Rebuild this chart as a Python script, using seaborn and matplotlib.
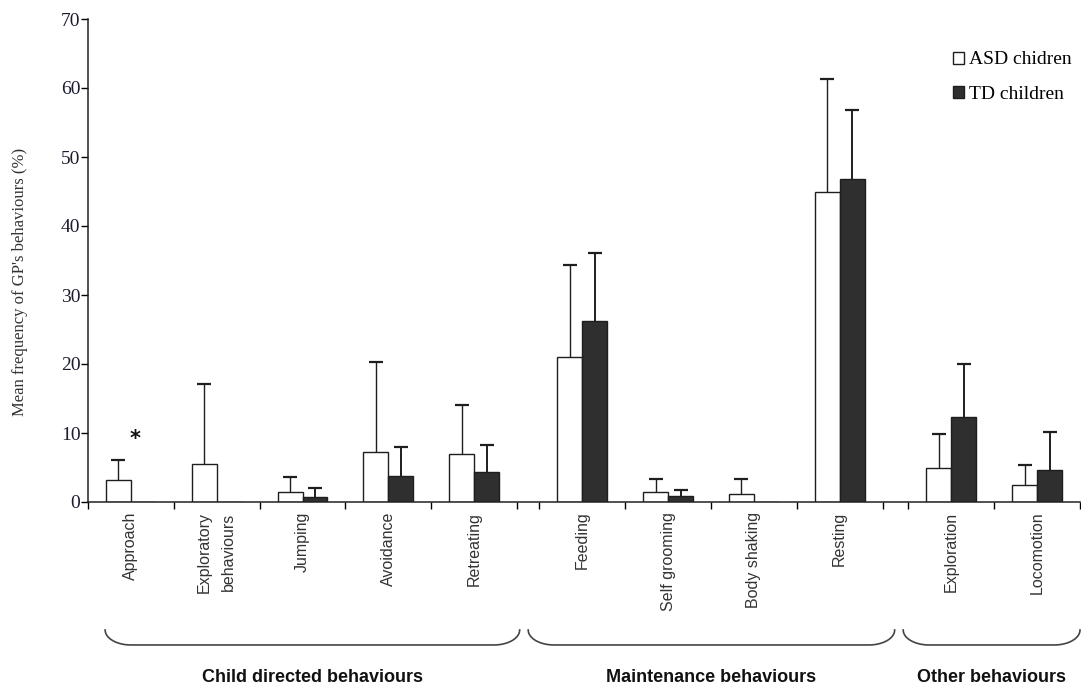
import numpy as np
import pandas as pd
import matplotlib
matplotlib.use("Agg")
import matplotlib.pyplot as plt
import seaborn as sns

# --- data ---
behaviours = ["Approach", "Exploratory\nbehaviours", "Jumping", "Avoidance", "Retreating",
              "Feeding", "Self grooming", "Body shaking", "Resting",
              "Exploration", "Locomotion"]
asd_mean = [3.2, 5.5, 1.5, 7.2, 7.0, 21.0, 1.5, 1.2, 45.0, 5.0, 2.4]
asd_err = [2.9, 11.6, 2.1, 13.1, 7.0, 13.3, 1.8, 2.1, 16.3, 4.9, 2.9]
td_mean = [0.0, 0.0, 0.7, 3.7, 4.4, 26.3, 0.8, 0.0, 46.8, 12.3, 4.6]
td_err = [0.0, 0.0, 1.3, 4.3, 3.8, 9.8, 0.9, 0.0, 10.0, 7.7, 5.5]
groups = ["Child directed behaviours", "Maintenance behaviours", "Other behaviours"]
group_sizes = [5, 4, 2]
series = ["ASD chidren", "TD children"]

# category positions with a small gap between the behaviour groups
gaps = [0.0, 0.26, 0.30]
pos, bounds = [], []
start = 0.0
for g, n in enumerate(group_sizes):
    start += gaps[g]
    bounds.append((start, start + n))
    pos += [start + i + 0.5 for i in range(n)]
    start += n
pos = np.array(pos)

df = pd.DataFrame({
    "pos": np.concatenate([pos, pos]),
    "mean": asd_mean + td_mean,
    "err": asd_err + td_err,
    "group": [series[0]] * len(pos) + [series[1]] * len(pos),
})

serif = "Liberation Serif"
sans = "Liberation Sans"

fig = plt.figure(figsize=(10.81, 6.85), dpi=100)
ax = fig.add_axes([88 / 1081, 1 - 502 / 685, 992 / 1081, 483 / 685])

width = 0.58
sns.barplot(data=df, x="pos", y="mean", hue="group", hue_order=series,
            native_scale=True, width=width, saturation=1, errorbar=None,
            palette={series[0]: "white", series[1]: "#2f2f2f"},
            edgecolor="#1e1e1e", linewidth=1.0, ax=ax)

# one-sided (upper) error bars
for k, (name, lw) in enumerate(zip(series, [1.0, 1.4])):
    sub = df[(df["group"] == name) & (df["err"] > 0)]
    x = sub["pos"] + (k - 0.5) * width / 2
    eb = ax.errorbar(x, sub["mean"], yerr=[np.zeros(len(sub)), sub["err"]], fmt="none",
                     ecolor="#1e1e1e", elinewidth=lw, capsize=5, capthick=1.6, zorder=1)
    eb[1][0].set_visible(False)

# significance star on Approach
ax.text(pos[0] + 0.05, 9.2, "*", ha="center", va="center", fontsize=15,
        fontweight="bold", color="#111111")

total = bounds[-1][1]
ax.set_xlim(0, total)
ax.set_ylim(0, 70)
ax.set_yticks(range(0, 71, 10))
ax.tick_params(axis="y", direction="out", length=5, width=1, pad=0.5, labelsize=14,
               labelcolor="#1c1c30")
for t in ax.get_yticklabels():
    t.set_fontfamily(serif)

edges = sorted(set(sum([[s + i for i in range(int(e - s) + 1)] for s, e in bounds], [])))
ax.set_xticks(edges)
ax.set_xticklabels([])
ax.set_xticks(pos, minor=True)
ax.set_xticklabels(behaviours, minor=True, rotation=90, va="top", ha="center",
                   fontfamily=sans, fontsize=11.5, color="#333333", linespacing=1.75)
ax.tick_params(axis="x", which="major", direction="out", length=5, width=1)
ax.tick_params(axis="x", which="minor", length=0, pad=7)
ax.set_xlabel("")
ax.set_ylabel("Mean frequency of GP's behaviours (%)", fontfamily=serif, fontsize=12,
              color="#333333")
ax.yaxis.set_label_coords(-0.0605, 0.455)

for s in ["top", "right"]:
    ax.spines[s].set_visible(False)
for s in ["left", "bottom"]:
    ax.spines[s].set_color("#222222")
    ax.spines[s].set_linewidth(1.1)

handles, labels = ax.get_legend_handles_labels()
ax.legend(handles, labels, loc="upper left", bbox_to_anchor=(935 / 1081, 1 - 34 / 685),
          bbox_transform=fig.transFigure, frameon=False,
          prop={"family": serif, "size": 14}, handlelength=0.57, handleheight=0.57,
          labelspacing=0.9, handletextpad=0.3)

# curly group brackets under the labels
trans = ax.get_xaxis_transform()
spans = [(0.2, 5.03), (5.13, 9.40), (9.50, total)]
y_top, y_bot = -0.265, -0.296
r = 0.3
t = np.linspace(0, np.pi / 2, 30)
for (x0, x1), name in zip(spans, groups):
    xs = np.concatenate([x0 + r * (1 - np.cos(t)), x1 - r * (1 - np.cos(t[::-1]))])
    ys = np.concatenate([y_top - (y_top - y_bot) * np.sin(t), y_top - (y_top - y_bot) * np.sin(t[::-1])])
    ax.plot(xs, ys, color="#444444", lw=1.2, transform=trans, clip_on=False)
    ax.text((x0 + x1) / 2, -0.345, name, transform=trans, ha="center", va="top",
            fontfamily=sans, fontsize=13, fontweight="bold", color="#111111")

fig.savefig("out.png", dpi=100, facecolor="white")
